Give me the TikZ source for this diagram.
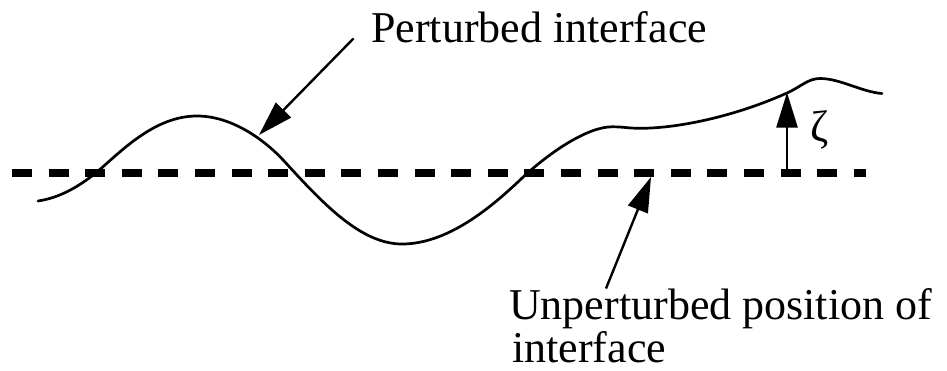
\documentclass[tikz,border=0pt]{standalone}
\usepackage{fontspec}
\setmainfont{Liberation Serif}
\usetikzlibrary{arrows.meta}
\begin{document}
\begin{tikzpicture}[x=1pt,y=-1pt,
  lbl/.style={inner sep=0pt,font=\fontsize{44}{50}\selectfont},
  ptr/.style={line width=2.4pt,-{Triangle[length=35pt,width=21pt]}},
  iface/.style={line width=2.7pt,line join=round,line cap=round},
  base/.style={line width=8pt,dash pattern=on 20pt off 16.6pt}]
\useasboundingbox (0,0) rectangle (947,370);
% unperturbed interface
\coordinate (dL) at (12,172.5);
\coordinate (dR) at (866,172.5);
\draw[base] (dL) -- (dR);
% perturbed interface
\coordinate (cA) at (38,201);
\coordinate (cB) at (105,165);
\coordinate (cP1) at (197,116);
\coordinate (cI1) at (285,162);
\coordinate (cT) at (402,244);
\coordinate (cI2) at (520,180);
\coordinate (cS) at (612,126.8);
\coordinate (cD) at (640,128.3);
\coordinate (cZ) at (787,93);
\coordinate (cP2) at (820,78.5);
\coordinate (cE) at (882,93.5);
\draw[iface] (cA) .. controls (63,197.3) and (85,183) .. (cB)
  .. controls (130,142.5) and (160,116) .. (cP1)
  .. controls (232,116) and (265,140) .. (cI1)
  .. controls (325,206) and (362,244) .. (cT)
  .. controls (447,244) and (490,208.5) .. (cI2)
  .. controls (550,151.5) and (588,126.8) .. (cS)
  .. controls (624,126.8) and (628,128.3) .. (cD)
  .. controls (680,128.3) and (737,115.5) .. (cZ)
  .. controls (801,86.7) and (808,78.5) .. (cP2)
  .. controls (840,78.5) and (862,92) .. (cE);
% labels
\node[lbl,anchor=base west] (pert) at (371,42) {Perturbed interface};
\node[lbl,anchor=base west] (unpert) at (509,319) {Unperturbed position of};
\node[lbl,anchor=base west] (ifc) at (512,362) {interface};
\node[lbl] (zeta) at (820,130) {ζ};
% arrows
\coordinate (pTail) at (353.5,38.5);
\coordinate (pTip) at (259,135);
\coordinate (uTail) at (606,288.5);
\coordinate (uTip) at (651,177);
\coordinate (zTail) at (787,172.5);
\coordinate (zTip) at (787,92.5);
\draw[ptr] (pTail) -- (pTip);
\draw[ptr] (uTail) -- (uTip);
\draw[ptr] (zTail) -- (zTip);
\end{tikzpicture}
\end{document}
